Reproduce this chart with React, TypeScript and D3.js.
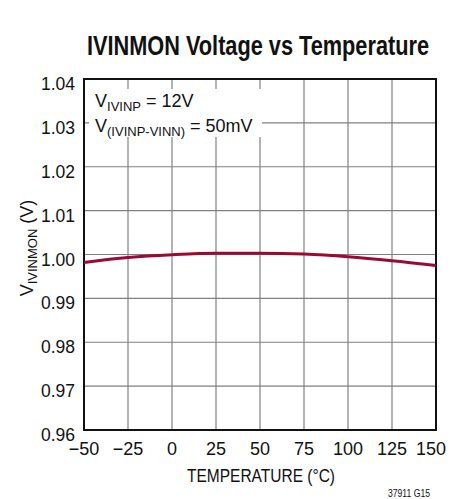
import React from "react";
import * as d3 from "d3";

const temps = [-50, -25, 0, 25, 50, 75, 100, 125, 150];
const vout = [0.9982, 0.9993, 0.99995, 1.0003, 1.0003, 1.0001, 0.9995, 0.9986, 0.9975];
const xTicks = [-50, -25, 0, 25, 50, 75, 100, 125, 150];
const yTicks = [0.96, 0.97, 0.98, 0.99, 1.0, 1.01, 1.02, 1.03, 1.04];

const FONT = "'Liberation Sans', Arial, sans-serif";

export default function App() {
  const W = 467, H = 499;
  const L = 84, R = 436, T = 79, B = 430;
  const x = d3.scaleLinear().domain([-50, 150]).range([L, R]);
  const y = d3.scaleLinear().domain([0.96, 1.04]).range([B, T]);
  const pts = temps.map((t, i) => [t, vout[i]] as [number, number]);
  const line = d3.line<[number, number]>().x(d => x(d[0])).y(d => y(d[1])).curve(d3.curveMonotoneX);
  return (
    <svg width={W} height={H} style={{ position: "absolute", left: 0, top: 0 }} fontFamily={FONT}>
      <rect x={0} y={0} width={W} height={H} fill="#fff" />
      <g transform="translate(87,55) scale(0.8,1)">
        <text x={0} y={0} fontSize={28} fontWeight="bold" fill="#111" textLength={427.5} lengthAdjust="spacingAndGlyphs">IVINMON Voltage vs Temperature</text>
      </g>
      {xTicks.slice(1, -1).map(t => (
        <line key={"gx" + t} x1={x(t)} x2={x(t)} y1={T} y2={B} stroke="#808080" strokeWidth={1.2} />
      ))}
      {yTicks.slice(1, -1).map(t => (
        <line key={"gy" + t} x1={L} x2={R} y1={y(t)} y2={y(t)} stroke="#808080" strokeWidth={1.2} />
      ))}
      <rect x={89} y={89} width={173} height={48} fill="#fff" />
      <rect x={L} y={T} width={R - L} height={B - T} fill="none" stroke="#111" strokeWidth={2} />
      <path d={line(pts) || ""} fill="none" stroke="#9b0a33" strokeWidth={3} />
      {yTicks.map(t => (
        <text key={"yl" + t} x={75} y={y(t) + 11} textAnchor="end" fontSize={17.5} fill="#111">{t.toFixed(2)}</text>
      ))}
      {xTicks.map((t, i) => (
        <text key={"xl" + t} x={x(t)} dx={i === xTicks.length - 1 ? -5 : 0} y={455} textAnchor="middle" fontSize={18} fill="#111">{t < 0 ? "\u2212" + Math.abs(t) : String(t)}</text>
      ))}
      <text x={187} y={482} fontSize={18} fill="#111" textLength={148} lengthAdjust="spacingAndGlyphs">TEMPERATURE (°C)</text>
      <text x={388} y={497} fontSize={10.5} fill="#111" textLength={42} lengthAdjust="spacingAndGlyphs">37911 G15</text>
      <text transform={`translate(33,${248}) rotate(-90)`} textAnchor="middle" fontSize={18} fill="#111">
        V<tspan fontSize={13} dy={4}>IVINMON</tspan><tspan dy={-4}> (V)</tspan>
      </text>
      <text x={95} y={107} fontSize={18} fill="#111">
        V<tspan fontSize={13} dy={4}>IVINP</tspan><tspan dy={-4}> = 12V</tspan>
      </text>
      <text x={95} y={132} fontSize={18} fill="#111">
        V<tspan fontSize={13} dy={4}>(IVINP-VINN)</tspan><tspan dy={-4}> = 50mV</tspan>
      </text>
    </svg>
  );
}
